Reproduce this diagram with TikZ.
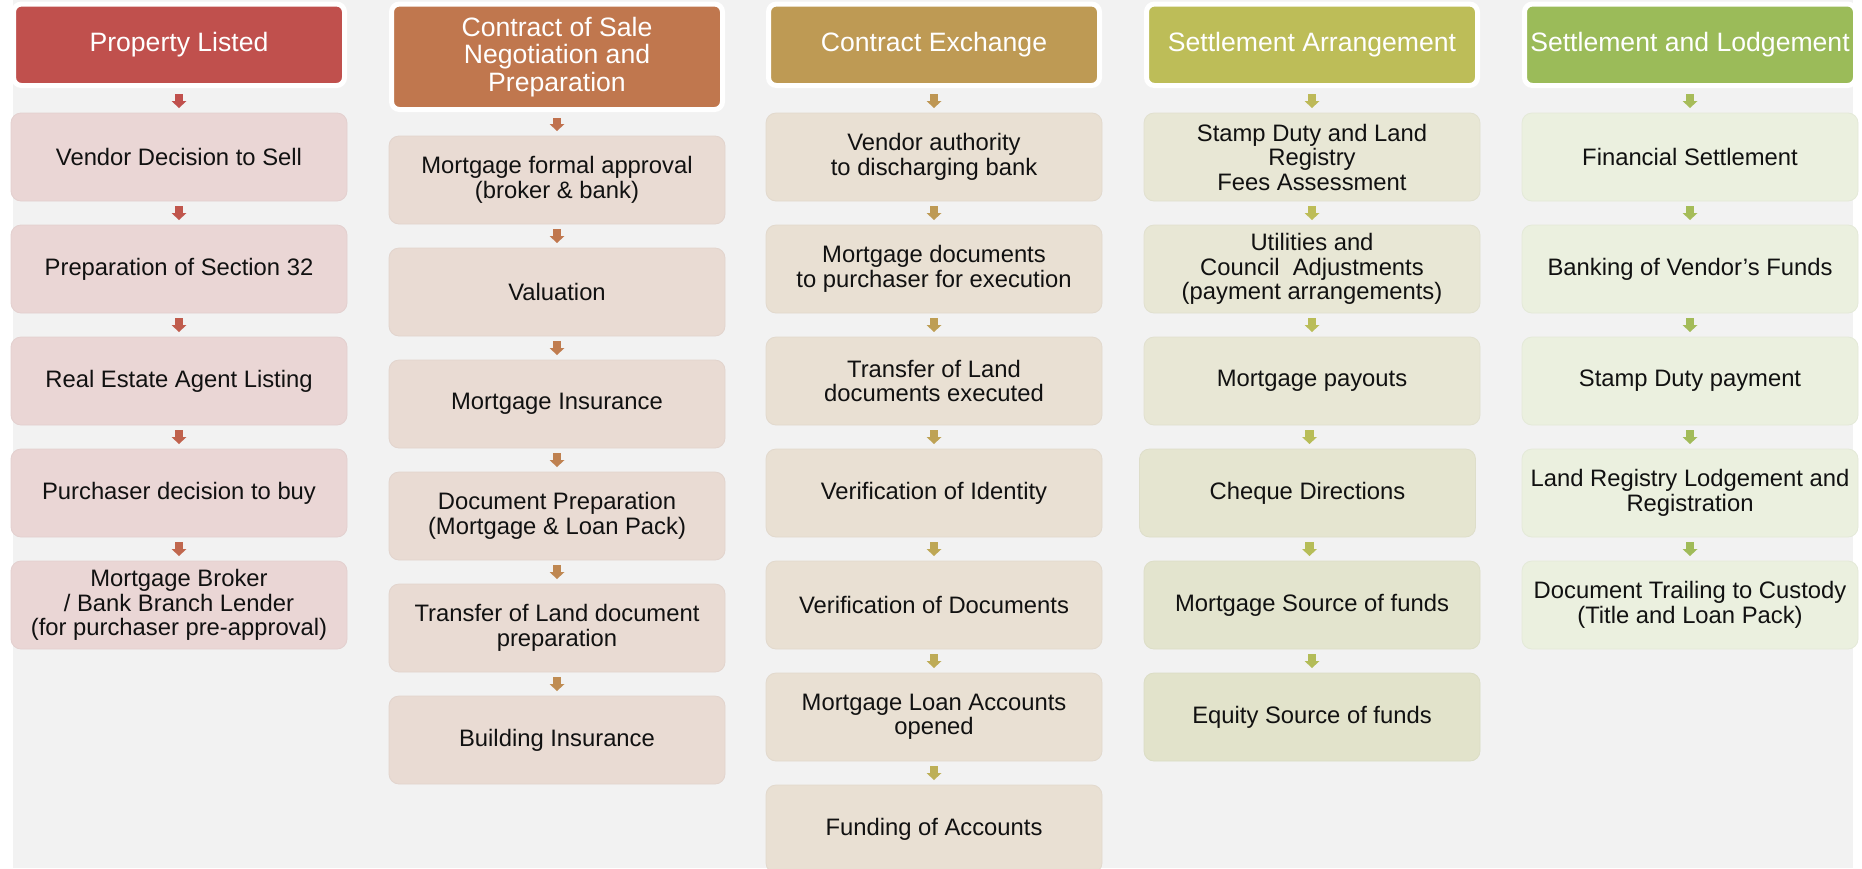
\documentclass[tikz,border=0pt]{standalone}
\usepackage{fontspec}
\setmainfont{Liberation Sans}
\usetikzlibrary{arrows.meta}
\definecolor{bg}{HTML}{F2F2F2}
\definecolor{txt}{HTML}{111111}
\definecolor{hA}{HTML}{C0504D}
\definecolor{hB}{HTML}{C0774E}
\definecolor{hC}{HTML}{BE9A54}
\definecolor{hD}{HTML}{BDBD58}
\definecolor{hE}{HTML}{9BBB59}
\definecolor{fA}{HTML}{EAD6D5}
\definecolor{fB}{HTML}{E9DBD3}
\definecolor{fC}{HTML}{E9E0D3}
\definecolor{fD}{HTML}{E8E7D5}
\definecolor{fE}{HTML}{EBF0DF}
\begin{document}
\begin{tikzpicture}[x=1pt,y=-1pt,
  hdr/.style={draw=white, line width=5pt, fill=#1, rounded corners=8pt,
    minimum width=331pt, minimum height=81.5pt, inner sep=0pt, outer sep=0pt,
    text=white, align=center, font=\fontsize{26.6}{27.5}\selectfont},
  bx/.style={fill=#1, draw=#1!97!black, line width=0.8pt, rounded corners=10pt,
    minimum width=336pt, minimum height=88pt, inner sep=0pt, outer sep=0pt,
    text=txt, align=center, font=\fontsize{23.8}{24.5}\selectfont},
  arr/.style={draw=#1, line width=8.5pt,
    -{Triangle[width=15pt,length=7pt,line width=0pt]},
    shorten <=5pt, shorten >=5pt},
  harr/.style={arr=#1, shorten <=8.5pt}]
\useasboundingbox (0,0) rectangle (1862,868);
\clip (0,0) rectangle (1862,868);
\fill[white] (0,0) rectangle (1862,868);
\fill[bg] (13,0) rectangle (1853,868);

% Column 1
\node[hdr=hA] (h1) at (179,44.75) {Property Listed};
\node[bx=fA] (b11) at (179,157) {Vendor Decision to Sell};
\node[bx=fA] (b12) at (179,269) {Preparation of Section 32};
\node[bx=fA] (b13) at (179,381) {Real Estate Agent Listing};
\node[bx=fA] (b14) at (179,493) {Purchaser decision to buy};
\node[bx=fA] (b15) at (179,605) {Mortgage Broker\\/ Bank Branch Lender\\(for purchaser pre-approval)};
\draw[harr=hA] (h1) -- (b11);
\draw[arr=hA!85!hB] (b11) -- (b12);
\draw[arr=hA!70!hB] (b12) -- (b13);
\draw[arr=hA!55!hB] (b13) -- (b14);
\draw[arr=hA!40!hB] (b14) -- (b15);

% Column 2
\node[hdr=hB, minimum height=105.5pt] (h2) at (557,56.75) {Contract of Sale\\Negotiation and\\Preparation};
\node[bx=fB] (b21) at (557,180) {Mortgage formal approval\\(broker \& bank)};
\node[bx=fB] (b22) at (557,292) {Valuation};
\node[bx=fB] (b23) at (557,404) {Mortgage Insurance};
\node[bx=fB] (b24) at (557,516) {Document Preparation\\(Mortgage \& Loan Pack)};
\node[bx=fB] (b25) at (557,628) {Transfer of Land document\\preparation};
\node[bx=fB] (b26) at (557,740) {Building Insurance};
\draw[harr=hB!85!hA] (h2) -- (b21);
\draw[arr=hB] (b21) -- (b22);
\draw[arr=hB!85!hC] (b22) -- (b23);
\draw[arr=hB!70!hC] (b23) -- (b24);
\draw[arr=hB!55!hC] (b24) -- (b25);
\draw[arr=hB!40!hC] (b25) -- (b26);

% Column 3
\node[hdr=hC] (h3) at (934,44.75) {Contract Exchange};
\node[bx=fC] (b31) at (934,157) {Vendor authority\\to discharging bank};
\node[bx=fC] (b32) at (934,269) {Mortgage documents\\to purchaser for execution};
\node[bx=fC] (b33) at (934,381) {Transfer of Land\\documents executed};
\node[bx=fC] (b34) at (934,493) {Verification of Identity};
\node[bx=fC] (b35) at (934,605) {Verification of Documents};
\node[bx=fC] (b36) at (934,717) {Mortgage Loan Accounts\\opened};
\node[bx=fC] (b37) at (934,829) {Funding of Accounts};
\draw[harr=hC!90!hB] (h3) -- (b31);
\draw[arr=hC] (b31) -- (b32);
\draw[arr=hC!88!hD] (b32) -- (b33);
\draw[arr=hC!76!hD] (b33) -- (b34);
\draw[arr=hC!64!hD] (b34) -- (b35);
\draw[arr=hC!52!hD] (b35) -- (b36);
\draw[arr=hC!40!hD] (b36) -- (b37);

% Column 4
\node[hdr=hD] (h4) at (1312,44.75) {Settlement Arrangement};
\node[bx=fD] (b41) at (1312,157) {Stamp Duty and Land\\Registry\\Fees Assessment};
\node[bx=fD] (b42) at (1312,269) {Utilities and\\Council~ Adjustments\\(payment arrangements)};
\node[bx=fD] (b43) at (1312,381) {Mortgage payouts};
\node[bx=fD!96!hE] (b44) at (1307.5,493) {Cheque Directions};
\node[bx=fD!94!hE] (b45) at (1312,605) {Mortgage Source of funds};
\node[bx=fD!92!hE] (b46) at (1312,717) {Equity Source of funds};
\draw[harr=hD!90!hC] (h4) -- (b41);
\draw[arr=hD] (b41) -- (b42);
\draw[arr=hD!92!hE] (b42) -- (b43);
\draw[arr=hD!85!hE] (b43.south -| 1309.5,0) -- (1309.5,0 |- b44.north);
\draw[arr=hD!78!hE] (b44.south -| 1309.5,0) -- (1309.5,0 |- b45.north);
\draw[arr=hD!70!hE] (b45) -- (b46);

% Column 5
\node[hdr=hE] (h5) at (1690,44.75) {Settlement and Lodgement};
\node[bx=fE] (b51) at (1690,157) {Financial Settlement};
\node[bx=fE] (b52) at (1690,269) {Banking of Vendor’s Funds};
\node[bx=fE] (b53) at (1690,381) {Stamp Duty payment};
\node[bx=fE] (b54) at (1690,493) {Land Registry Lodgement and\\Registration};
\node[bx=fE] (b55) at (1690,605) {Document Trailing to Custody\\(Title and Loan Pack)};
\draw[harr=hE!65!hD] (h5) -- (b51);
\draw[arr=hE!70!hD] (b51) -- (b52);
\draw[arr=hE!75!hD] (b52) -- (b53);
\draw[arr=hE!80!hD] (b53) -- (b54);
\draw[arr=hE!85!hD] (b54) -- (b55);
\end{tikzpicture}
\end{document}
